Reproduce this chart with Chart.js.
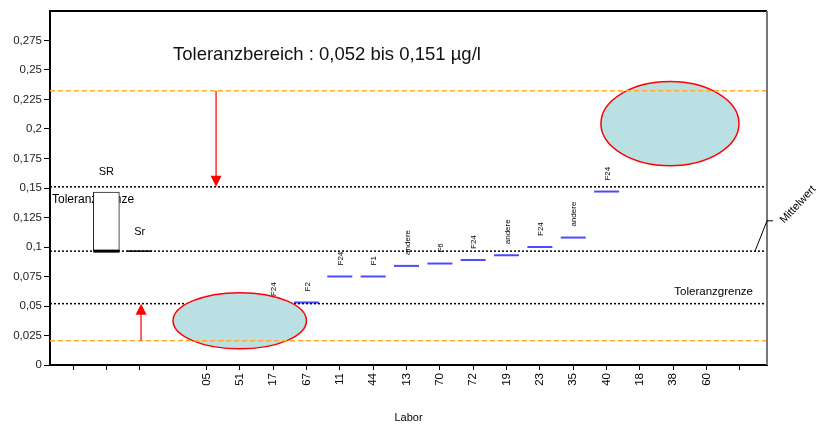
<!DOCTYPE html>
<html>
<head>
<meta charset="utf-8">
<script src="https://cdn.jsdelivr.net/npm/chart.js@4.4.1/dist/chart.umd.min.js"></script>
<style>
  html, body { margin: 0; padding: 0; background: #fff; }
  #wrap { width: 821px; height: 425px; }
</style>
</head>
<body>
<div id="wrap"><canvas id="ringversuch" width="821" height="425"></canvas></div>
<script>
// Kategorien der x-Achse (leere Plätze links fuer SR / Sr)
const xLabels = ['', '', '', '', '05', '51', '17', '67', '11', '44', '13', '70', '72', '19', '23', '35', '40', '18', '38', '60', ''];
const xTickPos = [0, 1, 2, 4, 5, 6, 7, 8, 9, 10, 11, 12, 13, 14, 15, 16, 17, 18, 19, 20];

// Laborwerte in µg/l
const labore   = ['05', '51', '17', '67', '11', '44', '13', '70', '72', '19', '23', '35', '40', '18', '38', '60'];
const werte    = [0.025, 0.028, 0.049, 0.053, 0.075, 0.075, 0.084, 0.086, 0.089, 0.093, 0.1, 0.108, 0.147, 0.18, 0.19, 0.2];
const methoden = ['F24', 'F24', 'F24', 'F2', 'F24', 'F1', 'andere', 'F6', 'F24', 'andere', 'F24', 'andere', 'F24', 'F24', 'F24', 'F24'];

// Kenngroessen
const mittelwert = 0.0965;
const toleranzUnten = 0.052;
const toleranzOben = 0.151;
const grenzeUnten = 0.0205;
const grenzeOben = 0.2325;
const srBereich = [0.0965, 0.1465];
const srWert = 0.0965;

// y-Achse
const yTicks = [0, 0.025, 0.05, 0.075, 0.1, 0.125, 0.15, 0.175, 0.2, 0.225, 0.25, 0.275];
const yTickLabels = ['0', '0,025', '0,05', '0,075', '0,1', '0,125', '0,15', '0,175', '0,2', '0,225', '0,25', '0,275'];

const xMin = -0.69, xMax = 20.81;
const schrift = '"Liberation Sans", Arial, sans-serif';

const punkte = labore.map((l, i) => ({ x: xLabels.indexOf(l), y: werte[i] }));

function hLinie(wert) {
    return [{ x: xMin, y: wert }, { x: xMax, y: wert }];
}

function pfeil(ctx, x, y1, y2) {
    // Pfeil von y1 nach y2 (Spitze bei y2)
    const dir = y2 > y1 ? 1 : -1;
    ctx.strokeStyle = '#ff3030';
    ctx.lineWidth = 1.5;
    ctx.beginPath();
    ctx.moveTo(x, y1);
    ctx.lineTo(x, y2 - dir * 10);
    ctx.stroke();
    ctx.fillStyle = '#ff0000';
    ctx.beginPath();
    ctx.moveTo(x, y2);
    ctx.lineTo(x - 5.5, y2 - dir * 11);
    ctx.lineTo(x + 5.5, y2 - dir * 11);
    ctx.closePath();
    ctx.fill();
}

const extras = {
    id: 'extras',
    beforeDatasetsDraw(chart) {
        const { ctx, scales: { x, y } } = chart;
        ctx.save();
        ctx.font = '12px ' + schrift;
        ctx.fillStyle = '#000';
        ctx.textBaseline = 'middle';
        ctx.textAlign = 'left';
        ctx.fillText('Toleranzgrenze', x.left + 2, y.getPixelForValue(toleranzOben) + 13);
        ctx.restore();
    },
    afterDatasetsDraw(chart) {
        const { ctx, chartArea: a, scales: { x, y } } = chart;
        ctx.save();

        // Methoden ueber den Laborwerten
        ctx.font = '8px ' + schrift;
        ctx.fillStyle = '#000';
        ctx.textBaseline = 'middle';
        ctx.textAlign = 'left';
        punkte.forEach((p, i) => {
            ctx.save();
            ctx.translate(x.getPixelForValue(p.x) + 1, y.getPixelForValue(p.y) - 11);
            ctx.rotate(-Math.PI / 2);
            ctx.fillText(methoden[i], 0, 0);
            ctx.restore();
        });

        // Ellipsen
        const ellipsen = [
            { cx: 5, cy: 0.0375, rx: 2.0, ry: 0.0238 },
            { cx: 17.9, cy: 0.2046, rx: 2.07, ry: 0.0357 }
        ];
        ellipsen.forEach(e => {
            const px = x.getPixelForValue(e.cx);
            const py = y.getPixelForValue(e.cy);
            const rx = x.getPixelForValue(e.cx + e.rx) - px;
            const ry = py - y.getPixelForValue(e.cy + e.ry);
            ctx.beginPath();
            ctx.ellipse(px, py, rx, ry, 0, 0, Math.PI * 2);
            ctx.fillStyle = '#bbe0e3';
            ctx.fill();
            ctx.strokeStyle = '#ff0000';
            ctx.lineWidth = 1.5;
            ctx.stroke();
        });

        // orange Grenzlinien
        ctx.strokeStyle = '#ffaa33';
        ctx.lineWidth = 1.5;
        ctx.setLineDash([5, 3]);
        [grenzeUnten, grenzeOben].forEach(g => {
            const py = y.getPixelForValue(g);
            ctx.beginPath();
            ctx.moveTo(a.left, py);
            ctx.lineTo(a.right, py);
            ctx.stroke();
        });
        ctx.setLineDash([]);

        // Pfeile
        pfeil(ctx, x.getPixelForValue(4.29), y.getPixelForValue(grenzeOben), y.getPixelForValue(toleranzOben));
        pfeil(ctx, x.getPixelForValue(2.04), y.getPixelForValue(grenzeUnten), y.getPixelForValue(toleranzUnten));

        // Rahmen oben und rechts
        ctx.strokeStyle = '#000';
        ctx.lineWidth = 2;
        ctx.beginPath();
        ctx.moveTo(a.left, a.top);
        ctx.lineTo(a.right, a.top);
        ctx.stroke();
        ctx.strokeStyle = '#777';
        ctx.beginPath();
        ctx.moveTo(a.right, a.top);
        ctx.lineTo(a.right, a.bottom);
        ctx.stroke();

        // Mittelwert-Beschriftung
        const my = y.getPixelForValue(mittelwert);
        const ly = y.getPixelForValue(0.1222);
        ctx.strokeStyle = '#000';
        ctx.lineWidth = 1;
        ctx.beginPath();
        ctx.moveTo(a.right - 12, my);
        ctx.lineTo(a.right, ly);
        ctx.lineTo(a.right + 6, ly);
        ctx.stroke();
        ctx.font = '11px ' + schrift;
        ctx.fillStyle = '#000';
        ctx.save();
        ctx.translate(a.right + 15, ly + 1);
        ctx.rotate(-0.82);
        ctx.fillText('Mittelwert', 0, 0);
        ctx.restore();

        // Texte
        ctx.font = '18.5px ' + schrift;
        ctx.fillStyle = '#111';
        ctx.fillText('Toleranzbereich : 0,052 bis 0,151 µg/l', 173, 55);

        ctx.font = '11px ' + schrift;
        ctx.fillStyle = '#000';
        ctx.textAlign = 'center';
        ctx.fillText('SR', x.getPixelForValue(1), y.getPixelForValue(srBereich[1]) - 20);
        ctx.fillText('Sr', x.getPixelForValue(2), y.getPixelForValue(srWert) - 19);
        ctx.font = '11.5px ' + schrift;
        ctx.textAlign = 'right';
        ctx.fillText('Toleranzgrenze', a.right - 14, y.getPixelForValue(toleranzUnten) - 12);

        ctx.restore();
    }
};

const ctx = document.getElementById('ringversuch');
const myChart = new Chart(ctx, {
    data: {
        datasets: [
            { type: 'line', data: hLinie(toleranzOben), borderColor: '#000', borderWidth: 1.5, borderDash: [2, 2], pointRadius: 0, order: 0 },
            { type: 'line', data: hLinie(mittelwert), borderColor: '#000', borderWidth: 1.5, borderDash: [2, 2], pointRadius: 0, order: 0 },
            { type: 'line', data: hLinie(toleranzUnten), borderColor: '#000', borderWidth: 1.5, borderDash: [2, 2], pointRadius: 0, order: 0 },
            {
                type: 'scatter', data: punkte, pointStyle: 'line', pointRadius: 12.5,
                borderColor: '#4a4aff', borderWidth: 2, order: 1
            },
            {
                type: 'scatter', data: [{ x: 1, y: srWert }], pointStyle: 'line', pointRadius: 13,
                borderColor: '#000', borderWidth: 3, order: -1
            },
            {
                type: 'scatter', data: [{ x: 2, y: srWert }], pointStyle: 'line', pointRadius: 12.5,
                borderColor: '#000', borderWidth: 1.5, order: -1
            },
            {
                type: 'bar', data: [{ x: 1, y: srBereich }], barThickness: 26,
                backgroundColor: '#fff', borderColor: '#222', borderWidth: 1, borderSkipped: false, order: 2
            }
        ]
    },
    options: {
        responsive: false,
        animation: false,
        events: [],
        layout: { autoPadding: false, padding: { left: 0, right: 54, top: 11, bottom: 0 } },
        plugins: { legend: { display: false }, tooltip: { enabled: false } },
        scales: {
            x: {
                type: 'linear',
                offset: false,
                min: xMin,
                max: xMax,
                afterBuildTicks: s => { s.ticks = xTickPos.map(v => ({ value: v })); },
                afterFit: s => { s.height = 60; s.paddingLeft = 0; s.paddingRight = 0; },
                ticks: {
                    autoSkip: false, maxRotation: 90, minRotation: 90, padding: 3,
                    color: '#000', font: { size: 11.5, family: schrift },
                    callback: v => xLabels[v]
                },
                grid: { drawOnChartArea: false, offset: false, tickLength: 5, color: '#000' },
                border: { color: '#000', width: 2 },
                title: { display: true, text: 'Labor', color: '#000', padding: 0, font: { size: 11, family: schrift } }
            },
            y: {
                min: 0,
                max: 0.3,
                afterBuildTicks: s => { s.ticks = yTicks.map(v => ({ value: v })); },
                afterFit: s => { s.width = 50; s.paddingTop = 0; s.paddingBottom = 0; },
                ticks: {
                    padding: 2, color: '#222', font: { size: 11.5, family: schrift },
                    callback: (v, i) => yTickLabels[i]
                },
                grid: { drawOnChartArea: false, tickLength: 6, color: '#000' },
                border: { color: '#000', width: 2 }
            }
        }
    },
    plugins: [extras]
});
</script>
</body>
</html>
